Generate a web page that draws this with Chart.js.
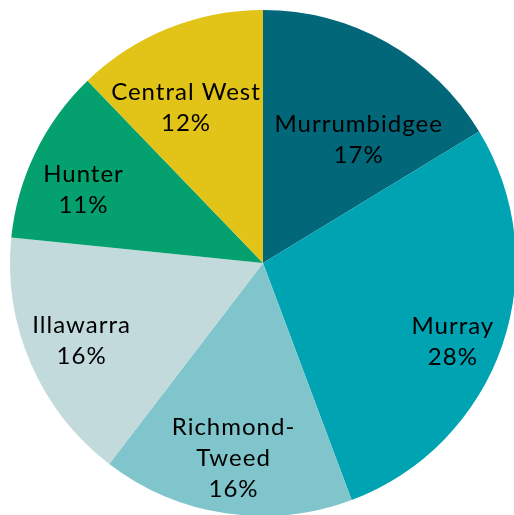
<!DOCTYPE html>
<html>
<head>
<meta charset="utf-8">
<script src="https://cdn.jsdelivr.net/npm/chart.js@4/dist/chart.umd.min.js"></script>
<style>
  html, body { margin: 0; padding: 0; background: #fff; overflow: hidden; }
  #wrap { width: 514px; height: 515px; overflow: hidden; }
</style>
</head>
<body>
<div id="wrap"><canvas id="myChart" width="526" height="526"></canvas></div>
<script>
// regions, clockwise from 12 o'clock
var regions = ["Murrumbidgee", "Murray", "Richmond-Tweed", "Illawarra", "Hunter", "Central West"];
// share of total
var shares = [16.3, 28.0, 16.1, 16.2, 11.2, 12.2];
// percentages as printed on the labels
var shownPct = [17, 28, 16, 16, 11, 12];
// label text lines
var labelLines = [["Murrumbidgee"], ["Murray"], ["Richmond-", "Tweed"], ["Illawarra"], ["Hunter"], ["Central West"]];

var colors = ["#03677A", "#00A3B2", "#80C5CB", "#C3DADD", "#04A06D", "#E2C318"];

// where each label sits inside its slice: fraction along the arc, fraction of radius
var labelSpot = [[0.64, 0.617], [0.532, 0.809], [0.505, 0.778], [0.51, 0.78], [0.41, 0.769], [0.398, 0.688]];

var sliceLabels = {
  id: 'sliceLabels',
  afterDatasetsDraw: function(chart) {
    var c = chart.ctx;
    var arcs = chart.getDatasetMeta(0).data;
    var lineH = 31, capH = 17.3;
    c.save();
    c.font = '24px Lato';
    c.letterSpacing = '1px';
    c.fillStyle = '#000';
    c.textAlign = 'center';
    c.textBaseline = 'alphabetic';
    arcs.forEach(function(arc, i) {
      var p = arc.getProps(['x', 'y', 'startAngle', 'endAngle', 'outerRadius'], true);
      var a = p.startAngle + (p.endAngle - p.startAngle) * labelSpot[i][0];
      var r = p.outerRadius * labelSpot[i][1];
      var cx = p.x + Math.cos(a) * r + 0.5;
      var cy = p.y + Math.sin(a) * r;
      var lines = labelLines[i].concat([shownPct[i] + '%']);
      var y0 = cy - ((lines.length - 1) * lineH - capH) / 2;
      lines.forEach(function(t, k) {
        c.fillText(t, cx, y0 + k * lineH);
      });
    });
    c.restore();
  }
};

var ctx = document.getElementById("myChart");
var myChart = new Chart(ctx, {
  type: 'pie',
  data: {
    labels: regions,
    datasets: [{
      data: shares,
      backgroundColor: colors,
      borderWidth: 0,
      hoverOffset: 0
    }]
  },
  options: {
    responsive: false,
    animation: false,
    layout: { padding: 10 },
    plugins: {
      legend: { display: false },
      tooltip: { enabled: false }
    }
  },
  plugins: [sliceLabels]
});
</script>
</body>
</html>
